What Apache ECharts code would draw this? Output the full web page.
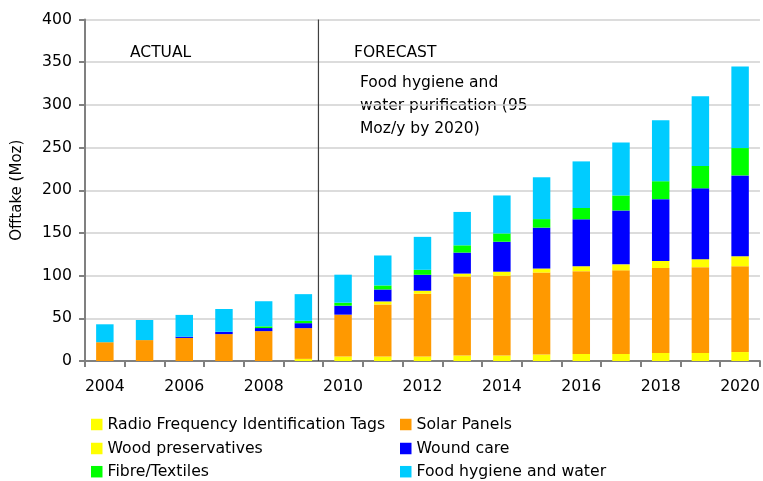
<!DOCTYPE html>
<html><head><meta charset="utf-8">
<script src="https://cdn.jsdelivr.net/npm/echarts@6/dist/echarts.min.js"></script>
<style>html,body{margin:0;padding:0;background:#fff}#c{width:763px;height:481px}</style>
</head><body><div id="c"></div>
<script>
var years = ['2004','2005','2006','2007','2008','2009','2010','2011','2012','2013','2014','2015','2016','2017','2018','2019','2020'];
var rfid  = [0,0,0,0,0,2.5,5.3,5.3,5.3,6.4,6.4,7.6,8.2,8.2,9.4,9.4,10.5];
var solar = [22,24.5,27,31.5,35,36,49,61,73.5,92.5,93.5,96,97,98,99.5,100.5,100.5];
var wood  = [0,0,0,0,0,0,0,3.5,3.5,3.5,4.7,4.7,5.8,7,8.2,9.4,11.7];
var wound = [0,0,1.5,2.7,3.6,5.8,10.5,14,18.7,24.6,35.1,47.9,55,63.1,72.5,83,94.7];
var fibre = [0,0,0,0,2,2.7,3.5,4.7,5.8,8.5,9.7,10,13.2,17.6,21,26.1,32];
var food  = [21,23.5,25.5,26.7,29.4,31.3,32.8,35.1,38.6,39.1,44.5,49,54.6,61.9,71.5,81.6,95.5];
var yTicks = [0,50,100,150,200,250,300,350,400];
var seriesNames = ['Radio Frequency Identification Tags','Solar Panels','Wood preservatives','Wound care','Fibre/Textiles','Food hygiene and water'];
var dividerX = 5.88;

var FONT = 'DejaVu Sans';
var FS = 15.7;
var chart = echarts.init(document.getElementById('c'));
function bar(name, data, color){
  return {name:name, type:'bar', stack:'s', data:data, barWidth:'44%',
    itemStyle:{color:color}, xAxisIndex:0, yAxisIndex:0};
}
var legPos = [[91,424.5],[400,424.5],[91,448.5],[400,448.5],[91,471.7],[400,471.7]];
var legends = seriesNames.map(function(n,i){
  return {left:legPos[i][0], top:legPos[i][1]-9, padding:0, itemWidth:11.5, itemHeight:11.5,
    icon:'rect', textStyle:{fontFamily:FONT, fontSize:FS, color:'#000', lineHeight:18}, data:[n]};
});
chart.setOption({
  animation:false,
  textStyle:{fontFamily:FONT},
  grid:{left:85, right:1, top:19.5, bottom:120, containLabel:false},
  legend:legends,
  xAxis:[
    {type:'category', data:years,
     axisLine:{lineStyle:{color:'#808080', width:2}},
     axisTick:{show:true, interval:0, length:6, lineStyle:{color:'#808080', width:2}},
     axisLabel:{interval:1, color:'#000', fontSize:FS, fontFamily:FONT, margin:18},
     splitLine:{show:false}},
    {type:'value', min:0, max:17, show:false}
  ],
  yAxis:{type:'value', min:0, max:400, interval:50,
    name:'Offtake (Moz)', nameLocation:'middle', nameGap:60,
    nameTextStyle:{color:'#000', fontSize:15, fontFamily:FONT},
    axisLine:{show:true, lineStyle:{color:'#808080', width:2}},
    axisTick:{show:true, length:6, lineStyle:{color:'#808080', width:2}},
    axisLabel:{color:'#000', fontSize:FS, fontFamily:FONT, margin:13,
      formatter:function(v){return yTicks.indexOf(v)>=0? String(v):'';}},
    splitLine:{show:true, lineStyle:{color:'#d0d0d0', width:1.5}}},
  graphic:[
    {type:'text', left:130, top:45, style:{text:'ACTUAL', font:'15.5px "DejaVu Sans"', fill:'#000'}},
    {type:'text', left:354, top:45, style:{text:'FORECAST', font:'15.5px "DejaVu Sans"', fill:'#000'}},
    {type:'text', left:360, top:71, style:{text:'Food hygiene and\nwater purification (95\nMoz/y by 2020)', font:'15.5px "DejaVu Sans"', fill:'#000', lineHeight:23}}
  ],
  series:[
    bar(seriesNames[0], rfid, '#FFFF00'),
    bar(seriesNames[1], solar, '#FF9900'),
    bar(seriesNames[2], wood, '#FFFF00'),
    bar(seriesNames[3], wound, '#0000FF'),
    bar(seriesNames[4], fibre, '#00FF00'),
    bar(seriesNames[5], food, '#00CCFF'),
    {type:'line', xAxisIndex:1, yAxisIndex:0, symbol:'none', silent:true,
     data:[[dividerX,0],[dividerX,400]], lineStyle:{color:'#404040', width:1.2}, z:5}
  ]
});
</script></body></html>
